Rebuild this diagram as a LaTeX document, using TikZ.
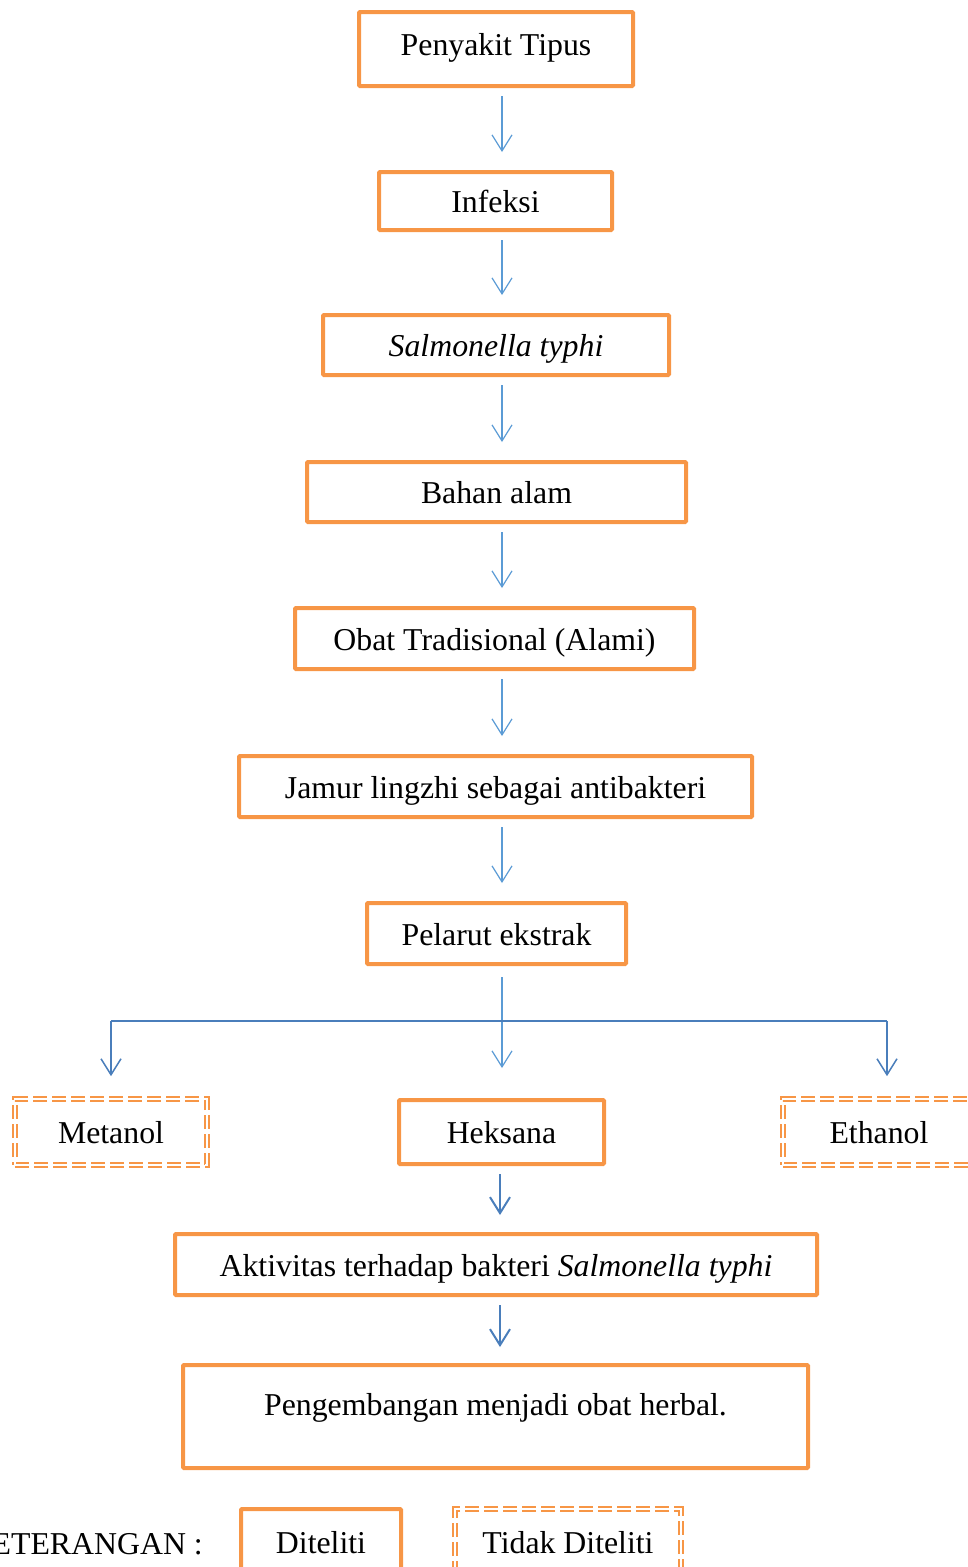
\documentclass[tikz,border=0pt]{standalone}
\usepackage{fontspec}
\setmainfont{Liberation Serif}
\usetikzlibrary{arrows.meta,calc}
\definecolor{orng}{HTML}{F79646}
\definecolor{lblue}{HTML}{5B9BD5}
\definecolor{dblue}{HTML}{4A7EBB}
\begin{document}
\begin{tikzpicture}[x=1pt,y=-1pt,font=\fontsize{31.8}{38}\selectfont,
  box/.style={draw=orng,line width=4pt,rounded corners=1pt,inner sep=0pt,text height=26pt,text depth=3pt},
  dbox/.style={draw=orng,line width=1.7pt,double=white,double distance=2pt,dash pattern=on 14pt off 5pt,inner sep=0pt,minimum height=66pt,minimum width=192pt,text height=26pt,text depth=3pt},
  arr/.style={draw=lblue,line width=1.2pt,-{Straight Barb[length=16pt,width=20pt]},shorten <=8pt,shorten >=18pt},
  arrb/.style={draw=dblue,line width=1.5pt,-{Straight Barb[length=16pt,width=20pt]}},
  arrc/.style={draw=dblue,line width=2pt,-{Straight Barb[length=16pt,width=20pt]}}]
\useasboundingbox (0,0) rectangle (968,1567);
\coordinate (col) at (502,0);
\coordinate (col2) at (500,0);
\node[box,minimum width=274pt,minimum height=74pt,text height=22pt,text depth=9pt] (n1) at (496,49) {Penyakit Tipus};
\node[box,minimum width=233pt,minimum height=58pt] (n2) at (495.5,201) {Infeksi};
\node[box,minimum width=346pt,minimum height=60pt] (n3) at (496,345) {\itshape Salmonella typhi};
\node[box,minimum width=379pt,minimum height=60pt] (n4) at (496.5,492) {Bahan alam};
\node[box,minimum width=399pt,minimum height=61pt] (n5) at (494.5,638.5) {Obat Tradisional (Alami)};
\node[box,minimum width=513pt,minimum height=61pt] (n6) at (495.5,786.5) {Jamur lingzhi sebagai antibakteri};
\node[box,minimum width=259pt,minimum height=61pt] (n7) at (496.5,933.5) {Pelarut ekstrak};
\node[dbox] (m) at (111,1132) {Metanol};
\node[box,minimum width=205pt,minimum height=64pt] (h) at (501.5,1132) {Heksana};
\node[dbox] (e) at (879,1132) {Ethanol};
\node[box,minimum width=642pt,minimum height=61pt] (a) at (496,1264.5) {Aktivitas terhadap bakteri \textit{Salmonella typhi}};
\node[box,minimum width=625pt,minimum height=103pt,text height=22pt,text depth=24pt] (p) at (495.5,1416.5) {Pengembangan menjadi obat herbal.};
\node[anchor=east,inner sep=0pt,yshift=-3pt] (k) at (203,1541) {KETERANGAN :};
\node[box,minimum width=160pt,minimum height=66pt] (d1) at (321,1542) {Diteliti};
\node[dbox,minimum width=226pt] (d2) at (568,1542) {Tidak Diteliti};
\foreach \s/\t in {n1/n2,n2/n3,n3/n4,n4/n5,n5/n6,n6/n7}
  \draw[arr] (\s.south -| col) -- (\t.north -| col);
\draw[arr,shorten <=11pt,shorten >=30pt] (n7.south -| col) -- (h.north -| col);
\coordinate (hl) at (111,1021);
\coordinate (hr) at (887,1021);
\draw[dblue,line width=1.3pt] (hl) -- (hr);
\draw[arrb,shorten >=22pt] (hl) -- (m.north -| hl);
\draw[arrb,shorten >=22pt] (hr) -- (e.north -| hr);
\draw[arrc,shorten <=8pt,shorten >=17pt] (h.south -| col2) -- (a.north -| col2);
\draw[arrc,shorten <=8pt,shorten >=16pt] (a.south -| col2) -- (p.north -| col2);
\end{tikzpicture}
\end{document}
